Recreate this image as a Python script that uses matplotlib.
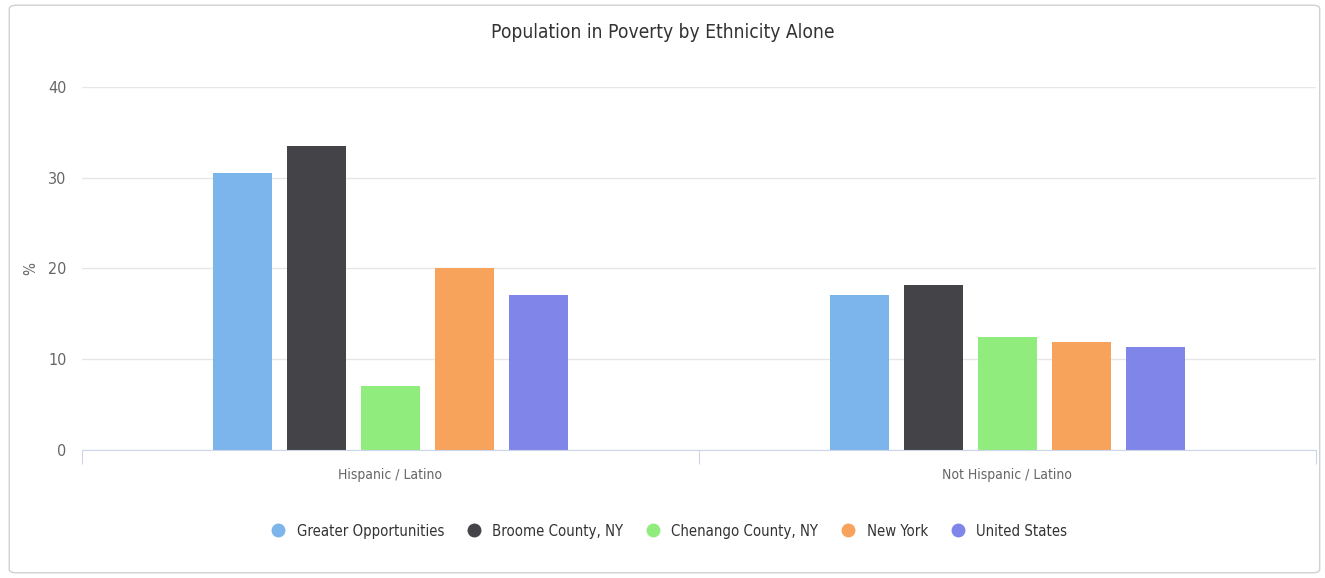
import matplotlib

matplotlib.use("Agg")
import matplotlib.pyplot as plt
from matplotlib.patches import FancyBboxPatch
from matplotlib.lines import Line2D
import numpy as np

plt.rcParams["font.family"] = ["DejaVu Sans"]
plt.rcParams["font.stretch"] = "condensed"

categories = ["Hispanic / Latino", "Not Hispanic / Latino"]
series_names = ["Greater Opportunities", "Broome County, NY", "Chenango County, NY",
                "New York", "United States"]
greater_opp = [30.5, 17.1]
broome = [33.5, 18.2]
chenango = [7.0, 12.4]
new_york = [20.1, 11.9]
united_states = [17.1, 11.3]
colors = ["#7cb5ec", "#434348", "#90ed7d", "#f7a35c", "#8085e9"]
yticks = [0, 10, 20, 30, 40]

series = [greater_opp, broome, chenango, new_york, united_states]

fig = plt.figure(figsize=(13.25, 5.78), dpi=100)
border = FancyBboxPatch((0.007, 0.009), 0.989, 0.982,
                        boxstyle="round,pad=0,rounding_size=0.006",
                        transform=fig.transFigure, facecolor="white",
                        edgecolor="#d0d0d0", linewidth=1, zorder=-10)
fig.patches.append(border)
ax = fig.add_axes([0.0619, 0.2215, 0.9311, 0.628])
ax.set_facecolor("none")

x = np.arange(len(categories))
width = 0.096
step = 0.12
for i, (vals, name, c) in enumerate(zip(series, series_names, colors)):
    ax.bar(x + (i - 2) * step, vals, width, color=c, label=name, zorder=3)

ax.set_xlim(-0.5, 1.5)
ax.set_ylim(0, 40)
ax.set_yticks(yticks)
ax.set_yticklabels([str(t) for t in yticks], color="#666666", fontsize=11.5)
ax.yaxis.grid(True, color="#e6e6e6", linewidth=1, zorder=0)
ax.tick_params(axis="y", length=0, pad=11)
for s in ["top", "right", "left"]:
    ax.spines[s].set_visible(False)
ax.spines["bottom"].set_color("#ccd6eb")
ax.spines["bottom"].set_zorder(4)

ax.set_xticks([-0.5, 0.5, 1.5])
ax.set_xticklabels([])
ax.set_xticks(x, minor=True)
ax.set_xticklabels(categories, minor=True, color="#666666", fontsize=10)
ax.tick_params(axis="x", which="major", length=10, color="#ccd6eb")
ax.tick_params(axis="x", which="minor", length=0, pad=13)

ax.set_ylabel("%", color="#666666", fontsize=11, labelpad=7)

fig.text(0.5, 0.943, "Population in Poverty by Ethnicity Alone", ha="center",
         va="center", fontsize=13.8, color="#333333")

handles = [Line2D([0], [0], marker="o", linestyle="none", markersize=9,
                  markerfacecolor=c, markeredgecolor=c) for c in colors]
fig.legend(handles, series_names, loc="center", bbox_to_anchor=(0.502, 0.081),
           ncol=5, frameon=False, fontsize=10.7, handletextpad=0.25,
           columnspacing=1.0, labelcolor="#333333")

fig.savefig("out.png", dpi=100, facecolor="white")
